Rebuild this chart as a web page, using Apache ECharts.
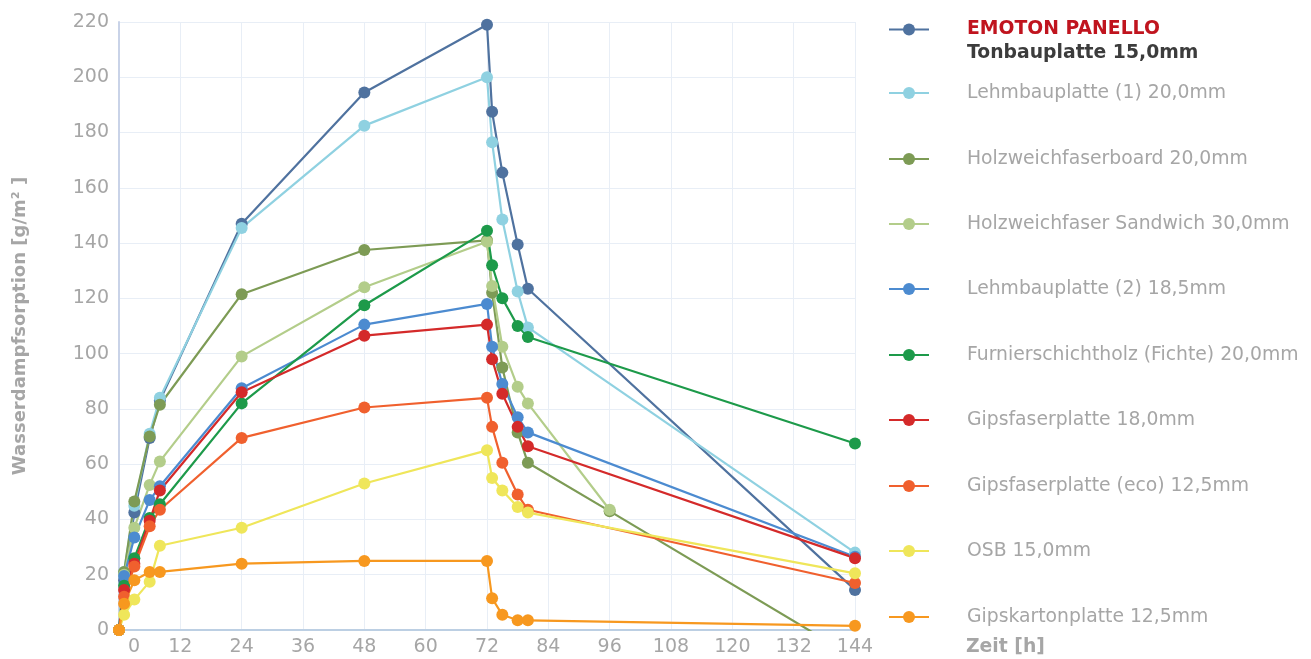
<!DOCTYPE html>
<html>
<head>
<meta charset="utf-8">
<script src="https://cdn.jsdelivr.net/npm/echarts@6/dist/echarts.min.js"></script>
<style>
  html, body { margin: 0; padding: 0; background: #ffffff; }
  #chart { width: 1311px; height: 659px; }
</style>
</head>
<body>
<div id="chart"></div>
<script>
// ---- Data ----
const hours = [0, 1, 3, 6, 8, 24, 48, 72, 73, 75, 78, 80, 96, 144];

const seriesNames = [
  'EMOTON PANELLO Tonbauplatte 15,0mm',
  'Lehmbauplatte (1) 20,0mm',
  'Holzweichfaserboard 20,0mm',
  'Holzweichfaser Sandwich 30,0mm',
  'Lehmbauplatte (2) 18,5mm',
  'Furnierschichtholz (Fichte) 20,0mm',
  'Gipsfaserplatte 18,0mm',
  'Gipsfaserplatte (eco) 12,5mm',
  'OSB 15,0mm',
  'Gipskartonplatte 12,5mm'
];

const emoton        = [0, 18, 42.5, 69.5, 83, 147, 194.5, 219, 187.5, 165.5, 139.5, 123.5, null, 14.5];
const lehmbau1      = [0, 21, 45, 71, 84, 145.5, 182.5, 200, 176.5, 148.5, 122.5, 109.5, null, 28];
const holzBoard     = [0, 21, 46.5, 70, 81.5, 121.5, 137.5, 141, 122, 95, 71.5, 60.5, 43, -10];
const holzSandwich  = [0, 20, 37, 52.5, 61, 99, 124, 140.5, 124.5, 102.5, 88, 82, 43.5, null];
const lehmbau2      = [0, 19.5, 33.5, 47, 52, 87.5, 110.5, 118, 102.5, 89, 77, 71.5, null, 26.5];
const furnier       = [0, 16, 26, 40.5, 45.5, 82, 117.5, 144.5, 132, 120, 110, 106, null, 67.5];
const gipsfaser18   = [0, 14.5, 24, 39.5, 50.5, 86, 106.5, 110.5, 98, 85.5, 73.5, 66.5, null, 26];
const gipsfaserEco  = [0, 12, 23, 37.5, 43.5, 69.5, 80.5, 84, 73.5, 60.5, 49, 43.5, null, 17];
const osb           = [0, 5.5, 11, 17.5, 30.5, 37, 53, 65, 55, 50.5, 44.5, 42.5, null, 20.5];
const gipskarton    = [0, 9.5, 18, 21, 21, 24, 25, 25, 11.5, 5.5, 3.5, 3.5, null, 1.5];

const seriesValues = [emoton, lehmbau1, holzBoard, holzSandwich, lehmbau2, furnier,
                      gipsfaser18, gipsfaserEco, osb, gipskarton];

const seriesColors = ['#4f729f', '#8fd1e1', '#7d9b55', '#b3cd8a', '#4c8bd0',
                      '#1d9a4a', '#d42a2a', '#f0602e', '#efe65a', '#f7981f'];

const xTicks = { min: 0, max: 144, interval: 12 };
const yTicks = { min: 0, max: 220, interval: 20 };

// ---- Chart ----
const FONT = 'DejaVu Sans';
const GREY = '#a6a6a6';
const LFS = 18.8;
const chart = echarts.init(document.getElementById('chart'), null, { renderer: 'canvas' });

const legendCentersY = [28, 93, 159, 224, 289, 355, 420, 486, 551, 617];

const legends = seriesNames.map((name, i) => {
  if (i === 0) {
    return {
      left: 888, top: legendCentersY[0] - 8, padding: 0,
      itemWidth: 40, itemHeight: 15,
      data: [name],
      formatter: () => '{a|EMOTON PANELLO}\n{b|Tonbauplatte 15,0mm}',
      textStyle: {
        padding: [24, 0, 0, 33],
        rich: {
          a: { fontFamily: FONT, fontSize: LFS, fontWeight: 'bold', color: '#c0141e', lineHeight: 24 },
          b: { fontFamily: FONT, fontSize: LFS, fontWeight: 'bold', color: '#3c3c3c', lineHeight: 24 }
        }
      },
      selectedMode: false
    };
  }
  return {
    left: 888, top: legendCentersY[i] - 12, padding: 0,
    itemWidth: 40, itemHeight: 15,
    data: [name],
    textStyle: { fontFamily: FONT, fontSize: LFS, color: GREY, lineHeight: 24, padding: [0, 0, 0, 33] },
    selectedMode: false
  };
});

const series = seriesNames.map((name, i) => ({
  name: name,
  type: 'line',
  data: hours.map((h, k) => [h, seriesValues[i][k]]),
  connectNulls: true,
  clip: true,
  symbol: 'circle',
  symbolSize: 12,
  showAllSymbol: true,
  lineStyle: { width: 2.2, color: seriesColors[i] },
  itemStyle: { color: seriesColors[i] },
  emphasis: { disabled: true },
  z: 2
}));

chart.setOption({
  animation: false,
  backgroundColor: '#ffffff',
  grid: { left: 119, right: 1311 - 855, top: 22, bottom: 659 - 630, containLabel: false },
  legend: legends,
  xAxis: {
    type: 'value',
    min: xTicks.min, max: xTicks.max, interval: xTicks.interval,
    name: 'Zeit [h]',
    nameLocation: 'end',
    nameGap: 966 - 855,
    nameTextStyle: { fontFamily: FONT, fontSize: LFS, fontWeight: 'bold', color: GREY,
                     align: 'left', verticalAlign: 'top', padding: [8, 0, 0, 0] },
    axisLine: { show: true, onZero: false, lineStyle: { color: '#bccfe3', width: 2 } },
    axisTick: { show: false },
    axisLabel: {
      fontFamily: FONT, fontSize: 19, color: GREY, margin: 8,
      formatter: (v) => v === 0 ? '{z|0}' : String(v),
      rich: { z: { fontFamily: FONT, fontSize: 19, color: GREY, padding: [0, 0, 0, 30] } }
    },
    splitLine: { show: true, lineStyle: { color: '#e8eef6', width: 1 } }
  },
  yAxis: {
    type: 'value',
    min: yTicks.min, max: yTicks.max, interval: yTicks.interval,
    name: 'Wasserdampfsorption [g/m² ]',
    nameLocation: 'middle',
    nameGap: 90,
    nameTextStyle: { fontFamily: FONT, fontSize: 18, fontWeight: 'bold', color: GREY },
    axisLine: { show: true, lineStyle: { color: '#c9d3e8', width: 2 } },
    axisTick: { show: false },
    axisLabel: { fontFamily: FONT, fontSize: 19, color: GREY, margin: 10 },
    splitLine: { show: true, lineStyle: { color: '#e8eef6', width: 1 } }
  },
  series: series
});
</script>
</body>
</html>
